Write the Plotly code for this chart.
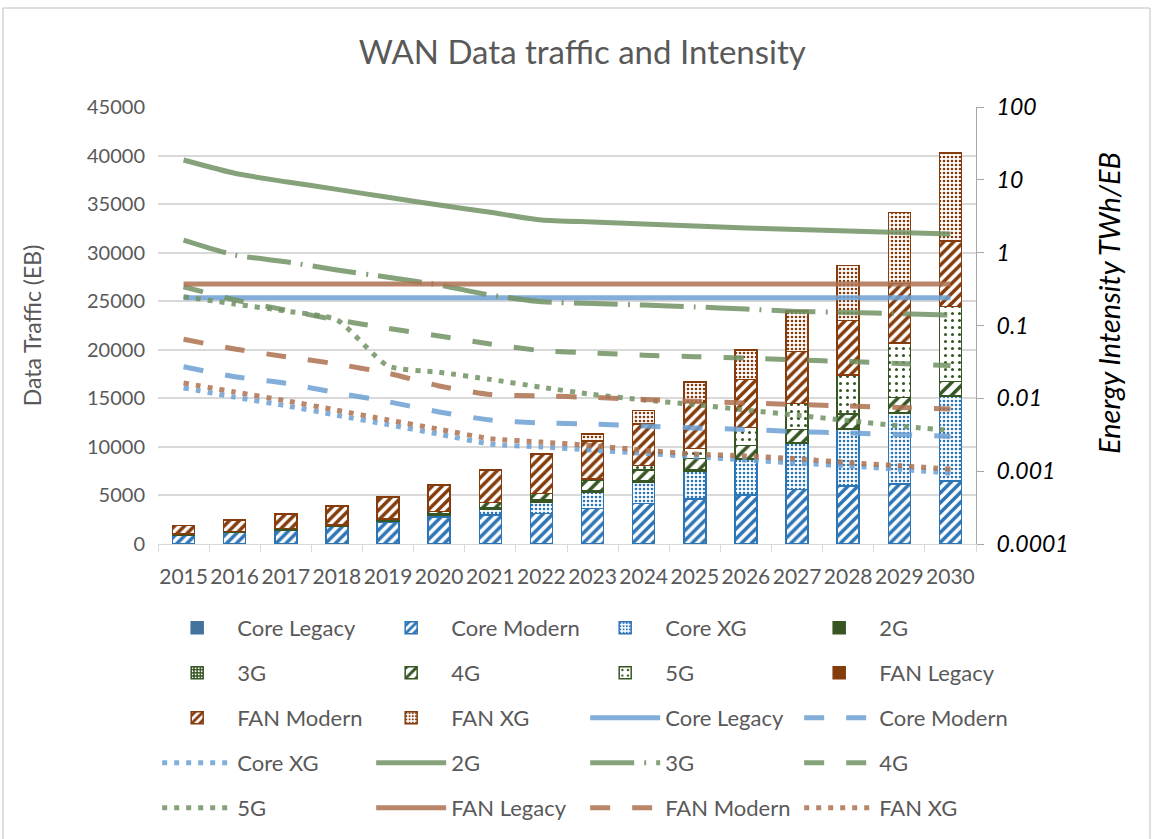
import plotly.graph_objects as go

years = [str(y) for y in range(2015, 2031)]

# ---- Data traffic (EB), stacked bars ----
core_legacy = [0] * 16
core_modern = [925, 1160, 1440, 1780, 2200, 2800, 2980, 3150, 3660, 4180, 4620, 5030, 5620, 5960, 6200, 6470]
core_xg = [0, 0, 0, 0, 100, 180, 650, 1200, 1680, 2190, 2910, 3700, 4720, 5820, 7300, 8770]
g2 = [30, 35, 35, 35, 40, 40, 40, 40, 30, 30, 25, 25, 20, 20, 15, 15]
g3 = [30, 45, 50, 55, 70, 80, 100, 120, 100, 80, 60, 50, 40, 30, 25, 20]
g4 = [20, 30, 50, 80, 170, 260, 480, 700, 1105, 1120, 1185, 1335, 1380, 1560, 1530, 1475]
g5 = [0, 0, 0, 0, 0, 0, 0, 0, 100, 480, 1060, 1850, 2670, 4010, 5620, 7730]
fan_legacy = [0] * 16
fan_modern = [875, 1200, 1505, 1950, 2280, 2740, 3350, 4040, 3945, 4280, 4690, 4960, 5380, 5600, 6140, 6720]
fan_xg = [0, 0, 0, 0, 0, 0, 0, 0, 720, 1370, 2130, 3050, 4140, 5690, 7320, 9070]

# ---- Energy intensity (TWh/EB), lines on log axis ----
int_core_legacy = [0.24] * 16
int_core_modern = [0.0272, 0.0198, 0.0161, 0.0119, 0.0090, 0.0065, 0.00504, 0.00459,
                   0.00445, 0.00417, 0.00392, 0.00374, 0.0035, 0.00334, 0.00319, 0.00299]
int_core_xg = [0.0139, 0.0104, 0.00792, 0.00585, 0.00435, 0.00321, 0.00236, 0.00215,
               0.00195, 0.00176, 0.00158, 0.00142, 0.00129, 0.00118, 0.00106, 0.00094]
int_2g = [18.7, 12.3, 9.4, 7.4, 5.75, 4.5, 3.58, 2.81, 2.64, 2.48, 2.32, 2.18, 2.08, 1.98, 1.89, 1.81]
int_3g = [1.49, 0.93, 0.75, 0.578, 0.46, 0.36, 0.262, 0.212, 0.20, 0.191, 0.18, 0.168, 0.156, 0.151, 0.146, 0.139]
int_4g = [0.34, 0.224, 0.163, 0.119, 0.0916, 0.0718, 0.0557, 0.0451, 0.042, 0.039, 0.0373, 0.0358,
          0.0336, 0.032, 0.030, 0.0282]
int_5g = [0.249, 0.197, 0.158, 0.119, 0.0278, 0.0228, 0.0182, 0.0142, 0.0113, 0.0095, 0.0082, 0.0069,
          0.00585, 0.00496, 0.00417, 0.00361]
int_fan_legacy = [0.37] * 16
int_fan_modern = [0.0647, 0.0476, 0.0373, 0.0296, 0.0221, 0.0148, 0.0113, 0.0108, 0.0103, 0.00965,
                  0.0091, 0.00863, 0.00823, 0.00785, 0.00749, 0.00714]
int_fan_xg = [0.01626, 0.01222, 0.00929, 0.00686, 0.00505, 0.00376, 0.00279, 0.00251, 0.00224, 0.00194,
              0.00172, 0.00162, 0.00148, 0.00131, 0.00119, 0.00107]

left_ticks = list(range(0, 45001, 5000))
right_ticks = [0.0001, 0.001, 0.01, 0.1, 1, 10, 100]
right_tick_text = ["0.0001", "0.001", "0.01", "0.1", "1", "10", "100"]

BLUE = "#2E75B6"
BLUE_SOLID = "#44729F"
DGREEN = "#375623"
BROWN = "#843C0C"
L_BLUE = "rgba(108,160,210,0.85)"
L_GREEN = "rgba(113,146,99,0.85)"
L_BROWN = "rgba(173,113,80,0.85)"
GRAY = "#595959"
FONT = "Lato"

fig = go.Figure()

def bar(name, vals, color, legend, shape="", fg=None, bg="white", size=6, solidity=0.5):
    marker = dict(color=color if not shape else "white", line=dict(color=color, width=1.5))
    if shape:
        marker["pattern"] = dict(shape=shape, fgcolor=fg or color, bgcolor=bg,
                                 size=size, solidity=solidity, fillmode="replace")
    fig.add_trace(go.Bar(x=years, y=vals, name=name, marker=marker, legend=legend,
                         yaxis="y", hoverinfo="y+name"))

bar("Core Legacy", core_legacy, BLUE_SOLID, "legend")
bar("Core Modern", core_modern, BLUE, "legend", "/", size=7, solidity=0.5)
bar("Core XG", core_xg, BLUE, "legend", ".", size=4, solidity=0.35)
bar("2G", g2, DGREEN, "legend")
bar("3G", g3, DGREEN, "legend2", ".", fg="white", bg=DGREEN, size=4, solidity=0.3)
bar("4G", g4, DGREEN, "legend2", "/", size=9, solidity=0.4)
bar("5G", g5, DGREEN, "legend2", ".", size=7, solidity=0.15)
bar("FAN Legacy", fan_legacy, BROWN, "legend2")
bar("FAN Modern", fan_modern, BROWN, "legend3", "/", size=7, solidity=0.5)
bar("FAN XG", fan_xg, BROWN, "legend3", ".", size=4, solidity=0.35)

DASH = "20px,22px"
DOT = "5px,7px"
DASHDOT = "44px,10px,2px,10px"

def line(name, vals, color, dash, legend):
    fig.add_trace(go.Scatter(x=years, y=vals, name=name, mode="lines", yaxis="y2", legend=legend,
                             line=dict(color=color, width=5, dash=dash, shape="spline", smoothing=0.6)))

line("Core Legacy", int_core_legacy, L_BLUE, "solid", "legend3")
line("Core Modern", int_core_modern, L_BLUE, DASH, "legend3")
line("Core XG", int_core_xg, L_BLUE, DOT, "legend4")
line("2G", int_2g, L_GREEN, "solid", "legend4")
line("3G", int_3g, L_GREEN, DASHDOT, "legend4")
line("4G", int_4g, L_GREEN, DASH, "legend4")
line("5G", int_5g, L_GREEN, DOT, "legend5")
line("FAN Legacy", int_fan_legacy, L_BROWN, "solid", "legend5")
line("FAN Modern", int_fan_modern, L_BROWN, DASH, "legend5")
line("FAN XG", int_fan_xg, L_BROWN, DOT, "legend5")

W, H = 1153, 839
L, R, T, B = 158, 177, 107, 295
pw, ph = W - L - R, H - T - B

def py(pix):
    return 1 - (pix - T) / ph

def px(pix):
    return (pix - L) / pw

leg_common = dict(orientation="h", x=-0.001, xanchor="left", yanchor="middle",
                  entrywidth=129, entrywidthmode="pixels", itemwidth=70, traceorder="normal",
                  font=dict(family=FONT, size=22, color=GRAY), bgcolor="rgba(0,0,0,0)")
rows_y = [628, 673, 718, 763, 808]

fig.update_layout(
    width=W, height=H,
    margin=dict(l=L, r=R, t=T, b=B, autoexpand=False),
    paper_bgcolor="white", plot_bgcolor="white",
    barmode="stack", bargap=0.57,
    font=dict(family=FONT, color=GRAY),
    title=dict(text="WAN Data traffic and Intensity", x=0.505, xanchor="center", y=1 - 52 / H,
               yanchor="middle", font=dict(family=FONT, size=33, color=GRAY)),
    xaxis=dict(type="category", tickson="boundaries", ticks="outside", ticklen=7, tickangle=0,
               tickcolor="#D9D9D9", showline=True, linecolor="#D9D9D9", linewidth=1,
               ticklabelstandoff=14,
               tickfont=dict(family=FONT, size=21, color=GRAY), showgrid=False),
    yaxis=dict(range=[0, 45000], tickvals=left_ticks, tickformat="d", showgrid=True,
               gridcolor="#D9D9D9", gridwidth=1.5, zeroline=False, showline=False,
               ticklabelstandoff=12,
               tickfont=dict(family=FONT, size=20, color=GRAY),
               title=dict(text="Data Traffic (EB)", font=dict(family=FONT, size=23, color=GRAY),
                          standoff=38)),
    yaxis2=dict(type="log", range=[-4, 2], overlaying="y", side="right", tickvals=right_ticks,
                ticktext=right_tick_text, showgrid=False, showline=True, linecolor="#A6A6A6",
                ticks="outside", ticklen=7, tickcolor="#A6A6A6", ticklabelstandoff=8,
                tickfont=dict(family=FONT, size=23, color="black", style="italic")),
    annotations=[dict(text="Energy Intensity TWh/EB", xref="paper", yref="paper",
                      x=px(1108), y=py(303), xanchor="center", yanchor="middle", textangle=-90,
                      showarrow=False,
                      font=dict(family=FONT, size=29, color="black", style="italic"))],
    legend=dict(leg_common, y=py(rows_y[0])),
    legend2=dict(leg_common, y=py(rows_y[1])),
    legend3=dict(leg_common, y=py(rows_y[2])),
    legend4=dict(leg_common, y=py(rows_y[3])),
    legend5=dict(leg_common, y=py(rows_y[4])),
    shapes=[dict(type="rect", xref="paper", yref="paper", x0=px(3), x1=px(1150), y0=py(850), y1=py(8),
                 line=dict(color="#BFBFBF", width=1), fillcolor="rgba(0,0,0,0)", layer="below")],
)

fig.write_html("out.html", config={"displayModeBar": False},
               post_script="document.body.style.margin='0';document.body.style.overflow='hidden';")
